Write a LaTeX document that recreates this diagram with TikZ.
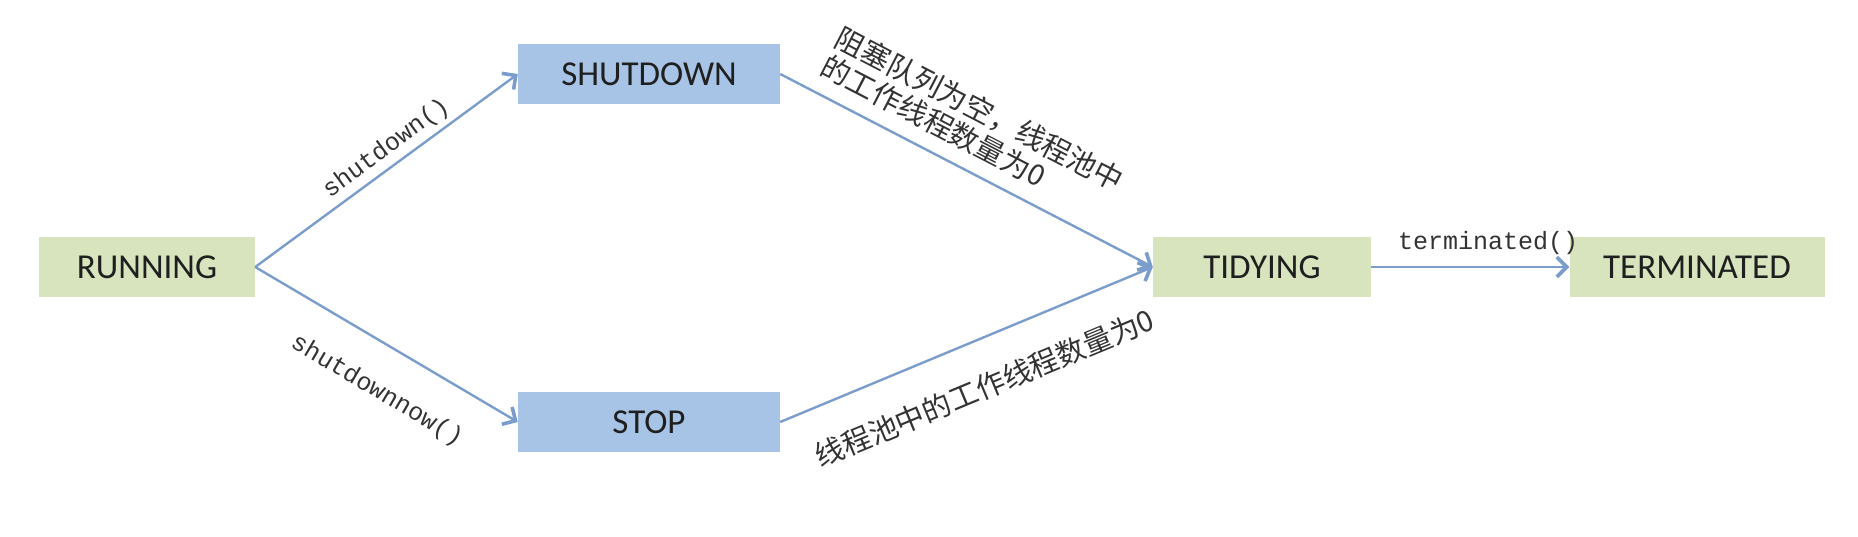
\documentclass[tikz,border=0pt]{standalone}
\usepackage{fontspec}
\setmainfont{Carlito}
\newfontfamily\lbl{Liberation Mono}
\newfontfamily\cjk{Noto Sans CJK SC}
\usetikzlibrary{arrows.meta}
\definecolor{gfill}{HTML}{D7E4BD}
\definecolor{bfill}{HTML}{A7C4E6}
\definecolor{arr}{HTML}{7B9DCB}
\definecolor{txt}{HTML}{333333}
\tikzset{
  state/.style={rectangle, minimum height=60pt, inner sep=0pt, font=\fontsize{35}{38}\selectfont, text=black!88},
  gstate/.style={state, fill=gfill},
  bstate/.style={state, fill=bfill},
  conn/.style={draw=arr, line width=2.4pt, -{Straight Barb[length=10pt,width=20pt,line width=3.6pt]}},
  elbl/.style={font=\lbl\fontsize{25}{27}\selectfont, text=txt, sloped, inner sep=2pt},
  clbl/.style={font=\cjk\fontsize{29}{32}\selectfont, text=txt, sloped, inner sep=2pt},
}
\begin{document}
\begin{tikzpicture}[x=1pt,y=-1pt]
\useasboundingbox (0,0) rectangle (1858,536);
\node[gstate, minimum width=216pt] (run) at (147,267) {RUNNING};
\node[bstate, minimum width=262pt] (shut) at (649,74) {SHUTDOWN};
\node[bstate, minimum width=262pt] (stop) at (649,422) {STOP};
\node[gstate, minimum width=218pt] (tidy) at (1262,267) {TIDYING};
\node[gstate, minimum width=255pt] (term) at (1697,267) {TERMINATED};
\draw[conn] (run.east) -- node[elbl, above=3pt, pos=0.54] {shutdown()} (shut.west);
\draw[conn] (run.east) -- node[elbl, below=30pt, pos=0.55] {shutdownnow()} (stop.west);
\draw[conn] (shut.east) -- node[clbl, above=12pt, pos=0.46, align=left] {阻塞队列为空，线程池中\\的工作线程数量为0} (tidy.west);
\draw[conn] (stop.east) -- node[clbl, below=30pt, pos=0.5] {线程池中的工作线程数量为0} (tidy.west);
\draw[conn] (tidy.east) -- node[elbl, above=9pt, pos=0.59] {terminated()} (term.west);
\end{tikzpicture}
\end{document}
